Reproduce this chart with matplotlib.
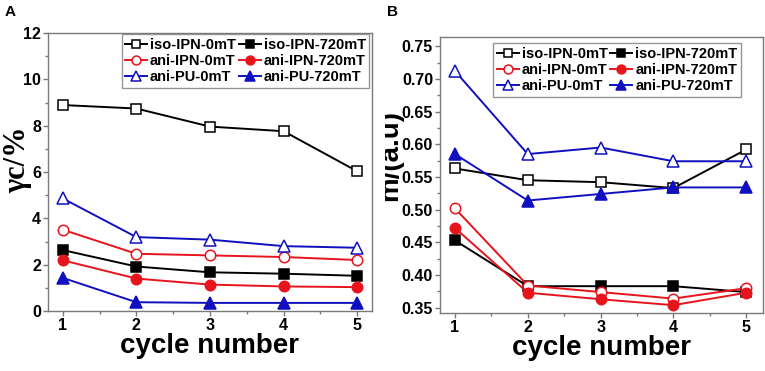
import matplotlib
matplotlib.use("Agg")
import matplotlib.pyplot as plt
from matplotlib.ticker import MultipleLocator, FormatStrFormatter
from matplotlib.transforms import Bbox, TransformedBbox

plt.rcParams["font.family"] = ["Liberation Sans", "DejaVu Sans"]
plt.rcParams["font.weight"] = "bold"

cycles = [1, 2, 3, 4, 5]
labels = ["iso-IPN-0mT", "iso-IPN-720mT", "ani-IPN-0mT",
          "ani-IPN-720mT", "ani-PU-0mT", "ani-PU-720mT"]

# Panel A : gamma_c (%)
gc_iso_0 = [8.89, 8.74, 7.96, 7.76, 6.03]
gc_iso_720 = [2.63, 1.92, 1.67, 1.61, 1.52]
gc_ani_0 = [3.51, 2.47, 2.40, 2.33, 2.20]
gc_ani_720 = [2.19, 1.40, 1.14, 1.06, 1.03]
gc_pu_0 = [4.86, 3.19, 3.08, 2.80, 2.73]
gc_pu_720 = [1.43, 0.38, 0.35, 0.35, 0.35]

# Panel B : m (a.u)
m_iso_0 = [0.563, 0.545, 0.542, 0.533, 0.592]
m_iso_720 = [0.453, 0.383, 0.383, 0.383, 0.374]
m_ani_0 = [0.502, 0.384, 0.374, 0.364, 0.380]
m_ani_720 = [0.472, 0.373, 0.363, 0.354, 0.373]
m_pu_0 = [0.712, 0.585, 0.595, 0.574, 0.574]
m_pu_720 = [0.585, 0.514, 0.524, 0.534, 0.534]

BLACK, RED, BLUE = "#000000", "#e8141c", "#1010c0"
styles = [
    dict(color=BLACK, marker="s", mfc="white", ms=6.5),
    dict(color=BLACK, marker="s", mfc=BLACK, ms=6.5),
    dict(color=RED, marker="o", mfc="white", ms=7.5),
    dict(color=RED, marker="o", mfc=RED, ms=7.5),
    dict(color=BLUE, marker="^", mfc="white", ms=8.5),
    dict(color=BLUE, marker="^", mfc=BLUE, ms=8.5),
]

W, H = 765, 371
fig = plt.figure(figsize=(W / 100, H / 100), dpi=100)


def px_axes(l, t, r, b):
    return fig.add_axes([l / W, 1 - b / H, (r - l) / W, (b - t) / H])


axA = px_axes(48, 33, 372, 311)
axB = px_axes(440, 37, 763, 313)

SPINE = "#7a7a7a"


def habiller(ax, series, ancre):
    lignes = []
    for y, lab, st in zip(series, labels, styles):
        l, = ax.plot(cycles, y, lw=1.4, mew=1.1, mec=st["color"], label=lab, **st)
        lignes.append(l)
    for s in ax.spines.values():
        s.set_color(SPINE)
        s.set_linewidth(1.0)
    ax.tick_params(which="both", direction="out", color=SPINE, labelsize=11.5, pad=1.5)
    ax.tick_params(which="major", length=3.5, width=1)
    ax.tick_params(which="minor", length=2, width=1)
    ax.xaxis.set_major_locator(MultipleLocator(1))
    ax.xaxis.set_minor_locator(MultipleLocator(0.5))
    ax.set_xlabel("cycle number", fontsize=20, fontweight="bold", labelpad=0)
    # ordre ligne par ligne : matplotlib remplit les colonnes d'abord
    ordre = [0, 2, 4, 1, 3, 5]
    leg = ax.legend([lignes[i] for i in ordre], [labels[i] for i in ordre],
                    ncol=2, loc="upper right", bbox_to_anchor=ancre,
                    fontsize=10.5, frameon=True, fancybox=False,
                    handlelength=1.5, handletextpad=0.2, columnspacing=0.2,
                    labelspacing=0.15, borderpad=0.25, borderaxespad=0.0,
                    markerscale=0.85)
    leg.get_frame().set_edgecolor(SPINE)
    leg.get_frame().set_linewidth(1.0)
    for t in leg.get_texts():
        t.set_fontweight("bold")
    for t in ax.get_xticklabels() + ax.get_yticklabels():
        t.set_fontweight("bold")
    return leg


habiller(axA, [gc_iso_0, gc_iso_720, gc_ani_0, gc_ani_720, gc_pu_0, gc_pu_720],
         (0.992, 0.995))
axA.set_xlim(0.8, 5.2)
axA.set_ylim(0, 12)
axA.yaxis.set_major_locator(MultipleLocator(2))
axA.yaxis.set_minor_locator(MultipleLocator(1))
for t in axA.get_yticklabels():
    t.set_fontweight("bold")

habiller(axB, [m_iso_0, m_iso_720, m_ani_0, m_ani_720, m_pu_0, m_pu_720],
         (0.932, 0.978))
axB.set_xlim(0.795, 5.23)
axB.set_ylim(0.342, 0.764)
axB.yaxis.set_major_locator(MultipleLocator(0.05))
axB.yaxis.set_minor_locator(MultipleLocator(0.025))
axB.yaxis.set_major_formatter(FormatStrFormatter("%.2f"))
for t in axB.get_yticklabels():
    t.set_fontweight("bold")

fig.text(18 / W, 1 - 160 / H, "γc/%", rotation=90, ha="center", va="center",
         fontsize=22, fontweight="bold", family=["Liberation Serif", "DejaVu Serif"])

# libellé de l'axe B, rogné à gauche comme dans la figure d'origine
yl = fig.text(390 / W, 1 - 155 / H, "m/(a.u)", rotation=90, ha="center", va="center",
              fontsize=20, fontweight="bold")
yl.set_clip_box(TransformedBbox(Bbox([[385 / W, 0], [1, 1]]), fig.transFigure))
yl.set_clip_on(True)

fig.text(5 / W, 1 - 5 / H, "A", fontsize=11, fontweight="bold", va="top")
fig.text(387 / W, 1 - 5 / H, "B", fontsize=11, fontweight="bold", va="top")

fig.savefig("out.png", dpi=100)
